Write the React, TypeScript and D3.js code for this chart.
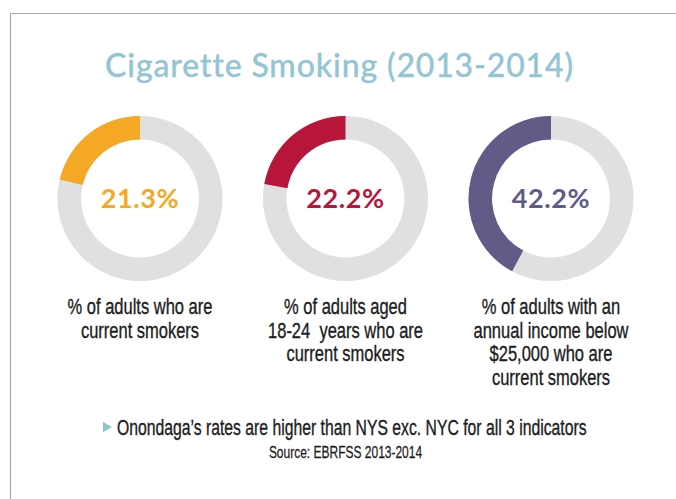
import React from "react";
import * as d3 from "d3";

const title = "Cigarette Smoking (2013-2014)";
const values = [21.3, 22.2, 42.2];
const valueLabels = ["21.3%", "22.2%", "42.2%"];
const colors = ["#f4a823", "#b8153a", "#625a87"];
const captions: string[][] = [
  ["% of adults who are", "current smokers"],
  ["% of adults aged", "18-24  years who are", "current smokers"],
  ["% of adults with an", "annual income below", "$25,000 who are", "current smokers"],
];
const footnote = "Onondaga\u2019s rates are higher than NYS exc. NYC for all 3 indicators";
const source = "Source: EBRFSS 2013-2014";

const W = 676;
const H = 499;
const CX = [140, 345.5, 551];
const CY = 198.5;
const R_OUT = 82.5;
const R_IN = 59;
const COND = "Liberation Sans, Arial, sans-serif";
const SQ = 0.75;
const INK = "#1c1c1c";

export default function App() {
  const arc = d3.arc<any>().innerRadius(R_IN).outerRadius(R_OUT);
  const pct = d3.scaleLinear().domain([0, 100]).range([0, 2 * Math.PI]);
  return (
    <svg
      width={W}
      height={H}
      style={{ position: "absolute", left: 0, top: 0, background: "#fff" }}
    >
      <line x1={10} y1={13.5} x2={W} y2={13.5} stroke="#a9a9a9" strokeWidth={1.2} />
      <line x1={10.5} y1={13} x2={10.5} y2={H} stroke="#a9a9a9" strokeWidth={1.2} />
      <text
        x={339.5}
        y={77}
        textAnchor="middle"
        fontFamily="Lato, sans-serif"
        fontWeight={500}
        fontSize={32}
        letterSpacing={0.85}
        fill="#93c5d3"
        stroke="#93c5d3"
        strokeWidth={0.3}
      >
        {title}
      </text>
      {values.map((v, i) => (
        <g key={i} transform={`translate(${CX[i]},${CY})`}>
          <path d={arc({ startAngle: 0, endAngle: 2 * Math.PI }) as string} fill="#e1e0e1" />
          <path d={arc({ startAngle: -pct(v), endAngle: 0 }) as string} fill={colors[i]} />
          <text
            y={9.5}
            textAnchor="middle"
            fontFamily="Lato, sans-serif"
            fontWeight={700}
            fontSize={27}
            letterSpacing={0.6}
            fill={colors[i]}
          >
            {valueLabels[i]}
          </text>
          {captions[i].map((line, j) => (
            <text
              key={j}
              transform={`translate(0,${314 - CY + j * 23.5}) scale(${SQ},1)`}
              textAnchor="middle"
              fontFamily={COND}
              fontSize={22}
              fill={INK}
              stroke={INK}
              strokeWidth={0.35}
              style={{ whiteSpace: "pre" }}
            >
              {line}
            </text>
          ))}
        </g>
      ))}
      <path d="M103,421.7 L112,427 L103,432.3 Z" fill="#8ec4d4" />
      <text
        transform={`translate(117,435) scale(0.733,1)`}
        fontFamily={COND}
        fontSize={21.5}
        fill={INK}
        stroke={INK}
        strokeWidth={0.35}
      >
        {footnote}
      </text>
      <text
        transform={`translate(345.5,458) scale(${SQ},1)`}
        textAnchor="middle"
        fontFamily={COND}
        fontSize={16}
        fill={INK}
        stroke={INK}
        strokeWidth={0.25}
      >
        {source}
      </text>
    </svg>
  );
}
